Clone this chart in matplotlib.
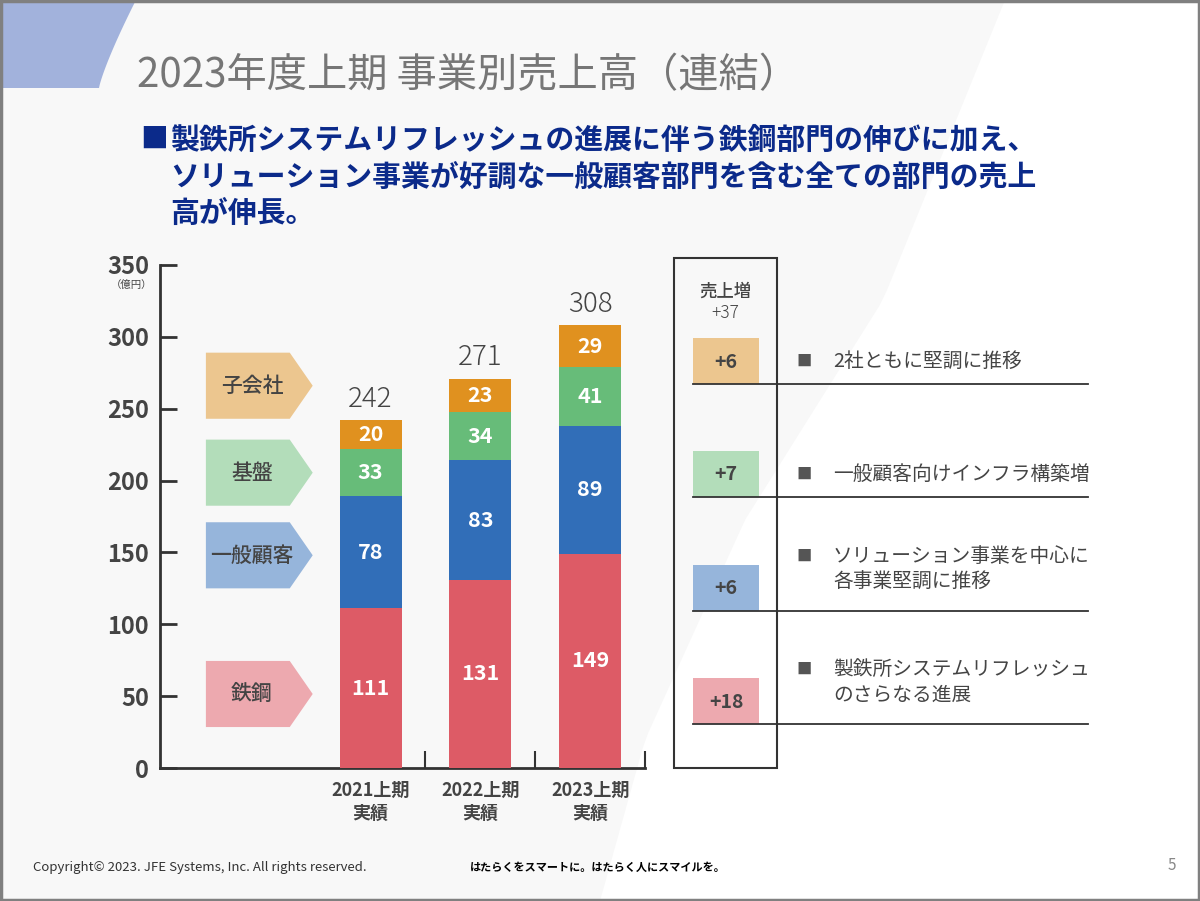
import numpy as np
import matplotlib
matplotlib.use("Agg")
import matplotlib.pyplot as plt
from matplotlib.patches import Polygon, Rectangle

plt.rcParams['font.family'] = ['Noto Sans CJK JP', 'DejaVu Sans']

#data:
periods = ['2021上期\n実績', '2022上期\n実績', '2023上期\n実績']
steel = [111, 131, 149]
general = [78, 83, 89]
infra = [33, 34, 41]
subsid = [20, 23, 29]
segments = ['鉄鋼', '一般顧客', '基盤', '子会社']
increase = [18, 6, 7, 6]
total_increase = 37
notes = ['製鉄所システムリフレッシュ\nのさらなる進展',
         'ソリューション事業を中心に\n各事業堅調に推移',
         '一般顧客向けインフラ構築増',
         '2社ともに堅調に推移']

bar_colors = ['#DD5B66', '#316EB8', '#67BC79', '#E0911F']
pale_colors = ['#EDA9AF', '#96B5DB', '#B3DDBA', '#ECC68F']
text_gray = '#444444'
navy = '#0B2A8A'

fig = plt.figure(figsize=(12, 9.01), dpi=100, facecolor='#F8F8F8')

#background layer in pixel coords:
bg = fig.add_axes([0, 0, 1, 1])
bg.set_xlim(0, 1200)
bg.set_ylim(901, 0)
bg.axis('off')
yy = np.linspace(0, 901, 60)
edge_x = np.interp(yy, [0, 300, 520, 740, 901], [1005, 883, 745, 645, 600])
bg.add_patch(Polygon(list(zip(edge_x, yy)) + [(1200, 901), (1200, 0)],
                     closed=True, fc='white', ec='none'))
#blue corner shape
ty = np.linspace(0, 88, 30)
blob_x = 99 + 37 * (1 - ty / 88) ** 1.2
bg.add_patch(Polygon([(0, 0)] + list(zip(blob_x, ty)) + [(0, 88)],
                     closed=True, fc='#A2B2DC', ec='none'))

#title + message:
bg.text(137, 76, '2023年度上期 事業別売上高（連結）', fontsize=29, color='#767676', va='center')
bg.text(140, 140, '■', fontsize=20, color=navy, va='center', fontweight='bold')
msg = ['製鉄所システムリフレッシュの進展に伴う鉄鋼部門の伸びに加え、',
       'ソリューション事業が好調な一般顧客部門を含む全ての部門の売上',
       '高が伸長。']
for i, line in enumerate(msg):
    bg.text(170, 140 + i * 36.5, line, fontsize=20.8, color=navy, va='center', fontweight='bold')

#chart:
ax = fig.add_axes([160 / 1200, (901 - 768) / 901, 485 / 1200, (768 - 265) / 901])
ax.patch.set_alpha(0)
x = np.arange(1, len(periods) + 1)
stack = [steel, general, infra, subsid]
bottom = np.zeros(len(periods))
for vals, col in zip(stack, bar_colors):
    ax.bar(x, vals, width=0.564, bottom=bottom, color=col, zorder=3)
    for xi, b, v in zip(x, bottom, vals):
        ax.text(xi, b + v / 2, str(v), ha='center', va='center', color='white',
                fontsize=15.5, fontweight='bold', zorder=4)
    bottom = bottom + np.array(vals)
for xi, t in zip(x, bottom):
    ax.text(xi, t + 15, str(int(t)), ha='center', va='center', fontsize=20,
            color=text_gray, fontweight='light')

ax.set_xlim(-0.918, 3.5)
ax.set_ylim(0, 350)
ax.spines[['top', 'right']].set_visible(False)
ax.spines[['left', 'bottom']].set_linewidth(2)
ax.spines[['left', 'bottom']].set_color('#333333')
ax.set_yticks(range(0, 351, 50))
ax.set_yticklabels([str(v) for v in range(0, 351, 50)], fontweight='bold', fontsize=17, color=text_gray)
ax.tick_params(axis='y', direction='in', length=12, width=2, color='#333333', pad=8)
ax.set_xticks(x)
ax.set_xticklabels(periods, fontweight='bold', fontsize=13, color=text_gray, linespacing=1.3)
ax.tick_params(axis='x', length=0, pad=9)
ax.set_xticks(x + 0.5, minor=True)
ax.tick_params(axis='x', which='minor', direction='in', length=12, width=1.5, color='#333333')
bg.text(132, 285, '（億円）', fontsize=7.5, color=text_gray, ha='center', va='center')

#segment arrows on the left:
arrow_centers = [51.5, 148, 205.5, 266]
for seg, c, col in zip(segments, arrow_centers, pale_colors):
    h = 23
    ax.add_patch(Polygon([(-0.5, c - h), (0.264, c - h), (0.473, c), (0.264, c + h), (-0.5, c + h)],
                         closed=True, fc=col, ec='none', clip_on=False))
    ax.text(-0.08, c, seg, ha='center', va='center', fontsize=15, color=text_gray,
            fontweight='medium')

#increase panel:
bg.add_patch(Rectangle((674, 258), 103, 510, fill=False, ec='#333333', lw=1.5))
bg.text(725, 292, '売上増', ha='center', va='center', fontsize=12.5, color=text_gray,
        fontweight='medium')
bg.text(725, 313, '+' + str(total_increase), ha='center', va='center', fontsize=12.5,
        color=text_gray, fontweight='light')
box_tops = [678, 565, 451, 338]
for inc, note, top, col in zip(increase, notes, box_tops, pale_colors):
    bg.add_patch(Rectangle((693, top), 66, 46, fc=col, ec='none'))
    bg.text(726, top + 24, '+' + str(inc), ha='center', va='center', fontsize=14,
            fontweight='bold', color=text_gray)
    bg.plot([693, 1088], [top + 46, top + 46], color='#333333', lw=1.3)
    two = '\n' in note
    yc = top + 23 - (19 if two else 0)
    y1 = yc - (12.5 if two else 0)
    bg.text(796, y1, '■', fontsize=11, color='#555555', va='center')
    bg.text(833, yc, note, fontsize=14.2, color=text_gray, va='center', linespacing=1.3)

#footer:
bg.text(33, 867, 'Copyright© 2023. JFE Systems, Inc. All rights reserved.', fontsize=9.5,
        color='#333333', va='center')
bg.text(598, 867, 'はたらくをスマートに。はたらく人にスマイルを。', fontsize=8,
        color='black', va='center', ha='center', fontweight='bold')
bg.text(1172, 866, '5', fontsize=11, color='#888888', va='center', ha='center')
bg.add_patch(Rectangle((1, 1), 1198, 899, fill=False, ec='#808080', lw=2.5))

fig.savefig('out.png', dpi=100, facecolor=fig.get_facecolor())
